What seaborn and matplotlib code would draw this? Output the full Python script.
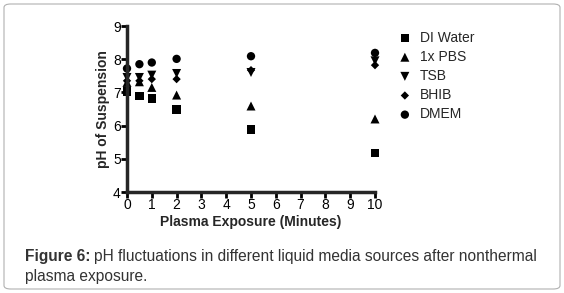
import pandas as pd
import matplotlib
matplotlib.use("Agg")
import matplotlib.pyplot as plt
from matplotlib.patches import FancyBboxPatch
import seaborn as sns

# exposure time (minutes) and pH
minutes = [0, 0.5, 1, 2, 5, 10]
di_water = [7.02, 6.89, 6.82, 6.48, 5.88, 5.18]
pbs = [7.30, 7.32, 7.15, 6.92, 6.59, 6.20]
tsb = [7.45, 7.45, 7.52, 7.57, 7.60, 7.95]
bhib = [7.35, 7.35, 7.40, 7.40, 7.67, 7.82]
dmem = [7.72, 7.85, 7.90, 8.01, 8.09, 8.19]

media = ["DI Water", "1x PBS", "TSB", "BHIB", "DMEM"]
values = [di_water, pbs, tsb, bhib, dmem]
markers = ["s", "^", "v", "D", "o"]
sizes = [38, 42, 42, 18, 36]

sns.set_style("ticks")
plt.rcParams["font.family"] = ["Liberation Sans", "DejaVu Sans"]

fig = plt.figure(figsize=(5.64, 2.93), dpi=100)
ax = fig.add_axes([127 / 564, 1 - 192 / 293, 248 / 564, 166 / 293])

for name, vals, m, s in zip(media, values, markers, sizes):
    df = pd.DataFrame({"Minutes": minutes, "pH": vals})
    sns.scatterplot(data=df, x="Minutes", y="pH", marker=m, s=s, color="black",
                    edgecolor="none", label=name, ax=ax, clip_on=False, zorder=3)

ax.set_xlim(0, 10)
ax.set_ylim(4, 9)
ax.set_xticks(range(0, 11))
ax.set_yticks(range(4, 10))
for sp in ["top", "right"]:
    ax.spines[sp].set_visible(False)
for sp in ["left", "bottom"]:
    ax.spines[sp].set_linewidth(2.5)
    ax.spines[sp].set_zorder(4)
ax.tick_params(width=2, length=4, labelsize=10, pad=0.5, colors="black")
ax.set_xlabel("Plasma Exposure (Minutes)", fontsize=10, fontweight="bold", labelpad=2)
ax.set_ylabel("pH of Suspension", fontsize=10, fontweight="bold", labelpad=2)

ax.legend(loc="upper left", bbox_to_anchor=(1.07, 1.005), frameon=False, fontsize=10,
          handletextpad=0.6, labelspacing=0.37, handlelength=1.0, borderaxespad=0)

# caption and rounded frame
fig.patches.append(FancyBboxPatch((4 / 564, 4 / 293), 556 / 564, 285 / 293,
                                  boxstyle="round,pad=0,rounding_size=0.012",
                                  transform=fig.transFigure, facecolor="none",
                                  edgecolor="#b0b0b0", linewidth=0.8))
t1 = fig.text(25 / 564, 1 - 257 / 293, "Figure 6:", fontsize=11.2, fontweight="bold",
              color="#333333", va="center")
fig.canvas.draw()
bb = t1.get_window_extent()
fig.text(bb.x1 / fig.bbox.width + 3 / 564, 1 - 257 / 293,
         "pH fluctuations in different liquid media sources after nonthermal",
         fontsize=11.2, color="#333333", va="center")
fig.text(25 / 564, 1 - 276 / 293, "plasma exposure.", fontsize=11.2,
         color="#333333", va="center")

fig.savefig("out.png", dpi=100)
